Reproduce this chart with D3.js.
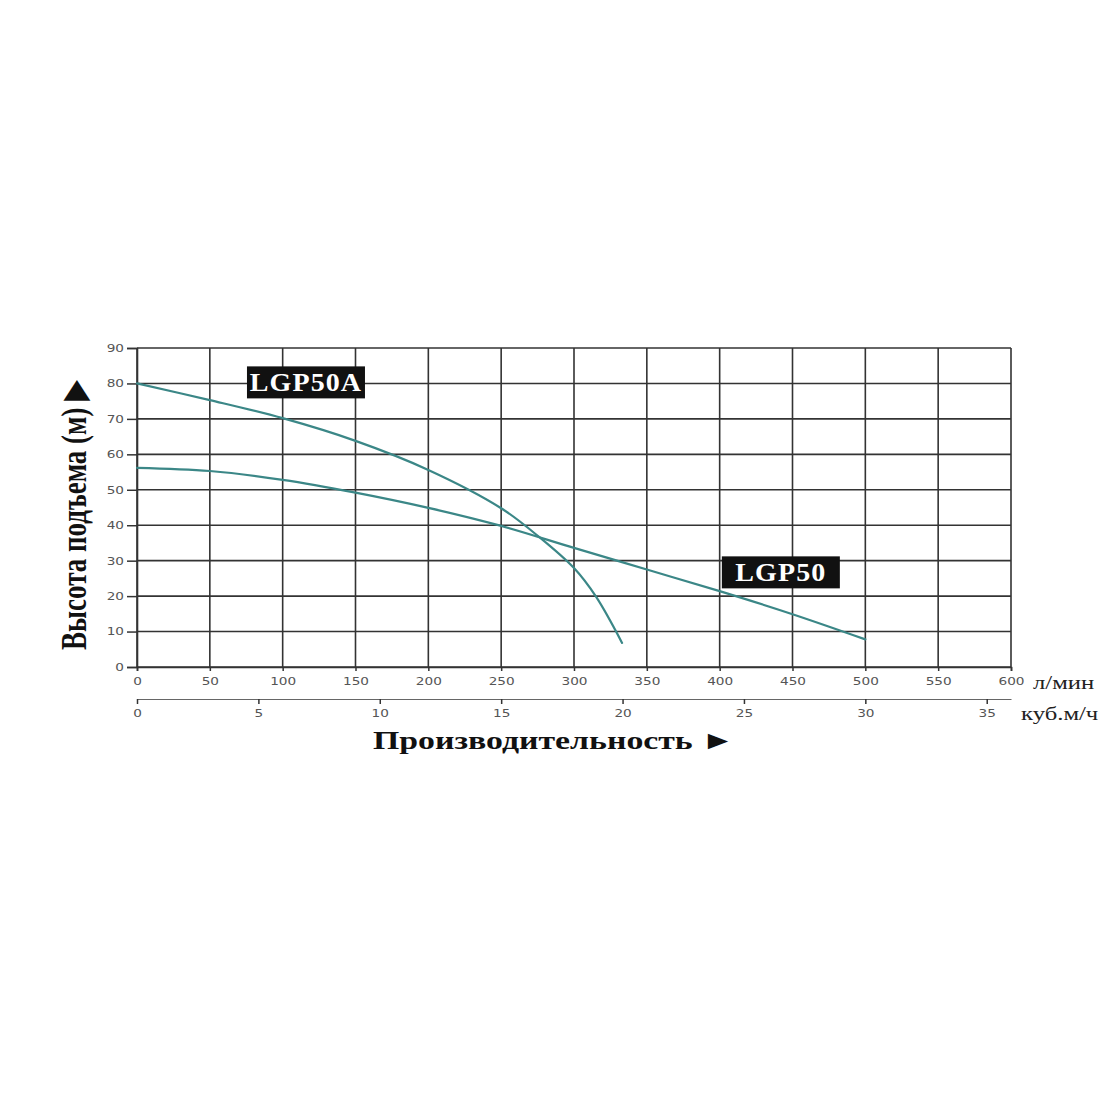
<!DOCTYPE html>
<html>
<head>
<meta charset="utf-8">
<script src="https://cdn.jsdelivr.net/npm/d3@7"></script>
<style>
  body { margin: 0; background: #fff; }
  #chart { width: 1100px; height: 1100px; }
</style>
</head>
<body>
<div id="chart"></div>
<script>
// pump curves: flow in l/min, head in m
const flowA = [0, 50, 100, 150, 200, 250, 276, 300, 315, 333];
const headA = [80, 75.3, 70.2, 63.8, 55.6, 44.8, 36.7, 27.9, 19.9, 6.8];
const flowB = [0, 50, 100, 150, 200, 250, 300, 350, 400, 450, 500];
const headB = [56.2, 55.3, 52.8, 49.2, 44.9, 39.8, 33.6, 27.5, 21.4, 14.9, 7.8];

const seriesNames = ["LGP50A", "LGP50"];
const labelFlow = [116, 442];
const labelHead = [80.3, 26.7];

const lpmTicks = [0, 50, 100, 150, 200, 250, 300, 350, 400, 450, 500, 550, 600];
const m3hTicks = [0, 5, 10, 15, 20, 25, 30, 35];
const headTicks = [0, 10, 20, 30, 40, 50, 60, 70, 80, 90];

const margin = { top: 348, left: 137 };
const width = 874, height = 319;
const stretch = 1.3;   // the original artwork is wider than tall
const curveColor = "#3b8787";
const gridColor = "#333";
const serif = "'Liberation Serif', 'DejaVu Serif', serif";
const sans = "'DejaVu Sans', 'Liberation Sans', sans-serif";

const svg = d3.select("#chart").append("svg")
    .attr("width", 1100)
    .attr("height", 1100);

const g = svg.append("g")
    .attr("transform", `translate(${margin.left},${margin.top})`);

const x = d3.scaleLinear().domain([0, 600]).range([0, width]);
const x2 = d3.scaleLinear().domain([0, 36]).range([0, width]);   // m3/h = l/min * 0.06
const y = d3.scaleLinear().domain([0, 90]).range([height, 0]);

// grid
g.append("g").selectAll("line").data(lpmTicks).join("line")
    .attr("x1", d => x(d)).attr("x2", d => x(d))
    .attr("y1", 0).attr("y2", height)
    .attr("stroke", gridColor).attr("stroke-width", 1.6);

g.append("g").selectAll("line").data(headTicks).join("line")
    .attr("x1", 0).attr("x2", width)
    .attr("y1", d => y(d)).attr("y2", d => y(d))
    .attr("stroke", gridColor).attr("stroke-width", 1.6);

// axes
const yAxisG = g.append("g")
    .call(d3.axisLeft(y).tickValues(headTicks).tickSize(10).tickPadding(3));
const xAxisG = g.append("g")
    .attr("transform", `translate(0,${height})`)
    .call(d3.axisBottom(x).tickValues(lpmTicks).tickSize(4).tickPadding(7));
const x2AxisG = g.append("g")
    .attr("transform", `translate(0,${height + 32})`)
    .call(d3.axisBottom(x2).tickValues(m3hTicks).tickSize(5).tickPadding(6).tickSizeOuter(0));

[yAxisG, xAxisG, x2AxisG].forEach(a => {
    a.select(".domain").attr("stroke", gridColor).attr("stroke-width", 1.6);
    a.selectAll(".tick line").attr("stroke", gridColor).attr("stroke-width", 1.5);
    a.selectAll(".tick text")
        .attr("fill", "#555")
        .style("font-family", sans)
        .style("font-size", "10.5px")
        .attr("transform", `scale(${stretch},1)`);
});
// keep the left labels right-aligned next to the ticks after stretching
yAxisG.selectAll(".tick text").attr("x", -13 / stretch);
x2AxisG.select(".domain").attr("stroke", "#666").attr("stroke-width", 1.2);

// curves
const line = d3.line()
    .x(d => x(d[0]))
    .y(d => y(d[1]))
    .curve(d3.curveCatmullRom.alpha(0.5));

const curves = [d3.zip(flowA, headA), d3.zip(flowB, headB)];
g.selectAll(".curve").data(curves).join("path")
    .attr("class", "curve")
    .attr("d", line)
    .attr("fill", "none")
    .attr("stroke", curveColor)
    .attr("stroke-width", 2.2)
    .attr("stroke-linecap", "round");

// series labels in black boxes (both boxes share one width)
seriesNames.forEach((name, i) => {
    const lg = g.append("g")
        .attr("transform", `translate(${x(labelFlow[i])},${y(labelHead[i])})`);
    lg.append("rect")
        .attr("fill", "#111")
        .attr("x", -59).attr("y", -16)
        .attr("width", 118).attr("height", 32);
    lg.append("text")
        .attr("text-anchor", "middle")
        .attr("dy", "0.35em")
        .attr("fill", "#fff")
        .attr("transform", "scale(1.12,1)")
        .style("font-family", serif)
        .style("font-weight", "bold")
        .style("font-size", "25px")
        .style("letter-spacing", "1px")
        .text(name);
});

// unit labels
svg.append("text")
    .attr("transform", `translate(1033,${margin.top + height + 22}) scale(${stretch},1)`)
    .style("font-family", serif).style("font-size", "19px").attr("fill", "#222")
    .text("л/мин");
svg.append("text")
    .attr("transform", `translate(1021,${margin.top + height + 53}) scale(${stretch},1)`)
    .style("font-family", serif).style("font-size", "19px").attr("fill", "#222")
    .text("куб.м/ч");

// axis titles
svg.append("text")
    .attr("transform", `translate(373,749) scale(${stretch},1)`)
    .style("font-family", serif).style("font-weight", "bold").style("font-size", "26px")
    .attr("fill", "#111")
    .text("Производительность ►");

svg.append("text")
    .attr("transform", `translate(86,650) scale(${stretch},1) rotate(-90)`)
    .style("font-family", serif).style("font-weight", "bold").style("font-size", "27px")
    .attr("fill", "#111")
    .text("Высота подъема (м) ▶");
</script>
</body>
</html>
